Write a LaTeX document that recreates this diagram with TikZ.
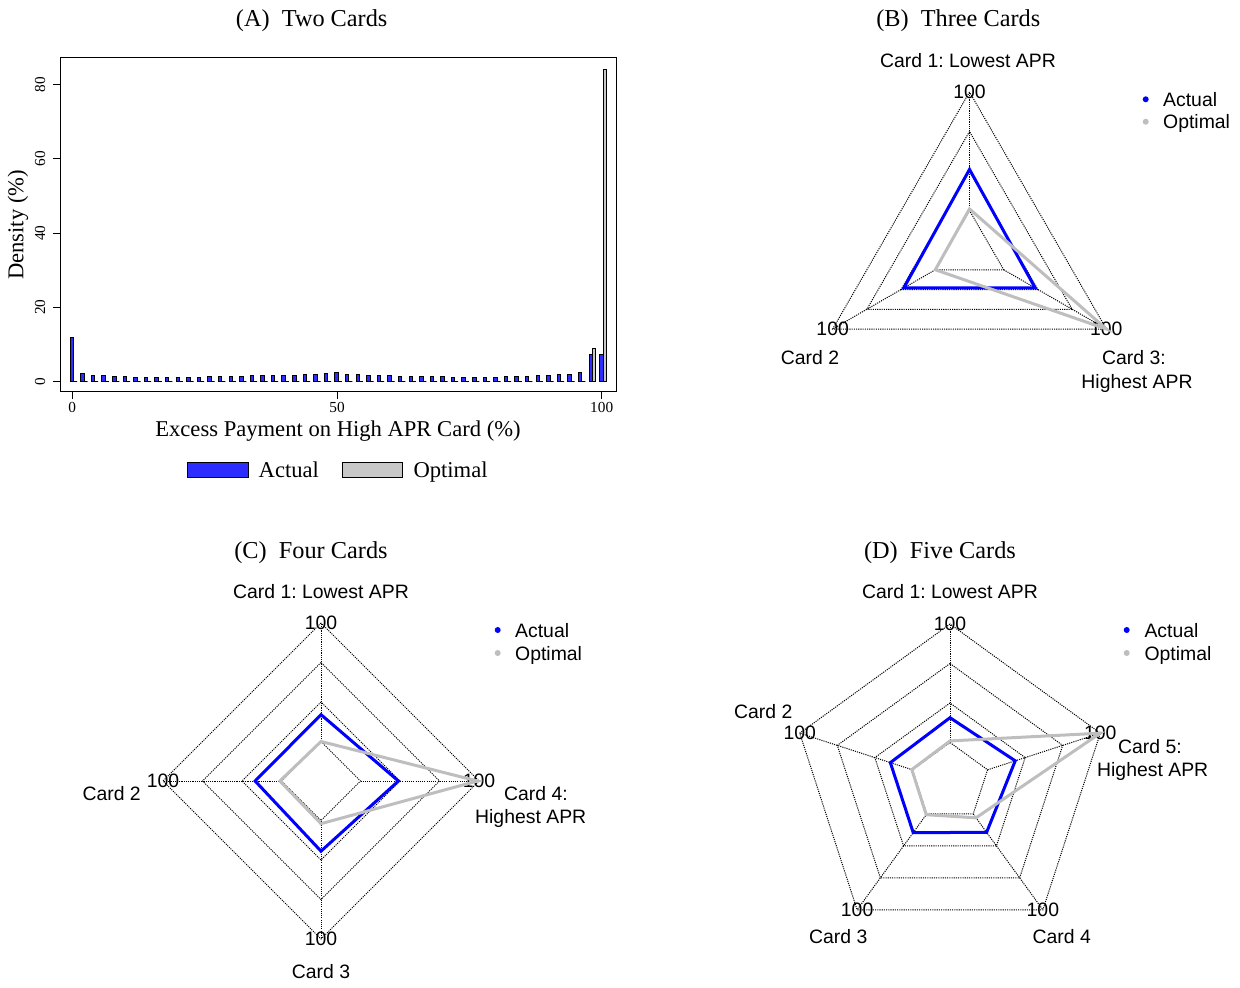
\documentclass[tikz,border=0pt]{standalone}
\usepackage{fontspec}
\newfontfamily\tnr{Liberation Serif}
\newfontfamily\arial{Liberation Sans}
\definecolor{barblue}{RGB}{45,45,255}
\definecolor{bargray}{RGB}{200,200,200}
\definecolor{optgray}{RGB}{190,190,190}
\definecolor{actblue}{RGB}{0,0,255}
\frenchspacing
\begin{document}
\begin{tikzpicture}[x=1pt,y=-1pt,
  ttl/.style={font=\tnr\fontsize{24.3}{28}\selectfont, anchor=base, inner sep=0},
  ax/.style={font=\tnr\fontsize{22.6}{26}\selectfont, inner sep=0},
  tick/.style={font=\tnr\fontsize{15.3}{18}\selectfont, inner sep=0},
  lab/.style={font=\arial\fontsize{19.4}{22}\selectfont, anchor=base, inner sep=0},
  gridl/.style={black, line width=1pt, dash pattern=on 1.1pt off 1.1pt},
  act/.style={actblue, line width=3pt},
  opt/.style={optgray, line width=3pt},
  barb/.style={fill=barblue, draw=black, line width=0.9pt},
  barg/.style={fill=bargray, draw=black, line width=0.9pt}]
\useasboundingbox (0,0) rectangle (1240,988);

% ---------------- Panel A ----------------
\node[ttl] (tA) at (311.7,26.7) {(A)\hspace{0.5em}Two Cards};
\foreach \v/\h in {0/12, 2/2.2, 4/1.7, 6/1.5, 8/1.3, 10/1.3, 12/1.2, 14/1.2, 16/1.2, 18/1.2, 20/1.2, 22/1.2, 24/1.2, 26/1.3, 28/1.3, 30/1.3, 32/1.4, 34/1.5, 36/1.5, 38/1.6, 40/1.6, 42/1.7, 44/1.8, 46/1.9, 48/2.2, 50/2.4, 52/2.0, 54/1.8, 56/1.6, 58/1.5, 60/1.5, 62/1.4, 64/1.4, 66/1.3, 68/1.3, 70/1.3, 72/1.2, 74/1.2, 76/1.2, 78/1.2, 80/1.2, 82/1.3, 84/1.3, 86/1.4, 88/1.5, 90/1.6, 92/1.8, 94/2.0, 96/2.5, 98/7.4, 100/7.2}
  {\path[barb] ({72.3+5.294*(\v-0.4)},381.5) rectangle ({72.3+5.294*(\v+0.25)},{381.5-3.7125*\h});}
\foreach \v/\h in {0/0,2/0,4/0,6/0,8/0,10/0,12/0,14/0,16/0,18/0,20/0,22/0,24/0,26/0,28/0,30/0,32/0,34/0,36/0,38/0,40/0,42/0,44/0,46/0,48/0,50/0,52/0,54/0,56/0,58/0,60/0,62/0,64/0,66/0,68/0,70/0,72/0,74/0,76/0,78/0,80/0,82/0,84/0,86/0,88/0,90/0,92/0,94/0,96/0,98/8.9,100/84}
  {\path[barg] ({72.3+5.294*(\v+0.25)},381.5) rectangle ({72.3+5.294*(\v+0.9)},{381.5-3.7125*\h});}
\draw[line width=0.9pt] (60,57.5) rectangle (616,391.7);
\foreach \t [count=\i] in {0,50,100}{
  \draw[line width=0.8pt] ({72.3+5.294*\t},391.7) -- ++(0,7);
  \node[tick, anchor=base] (xt\i) at ({72.3+5.294*\t},412.5) {\t};
}
\foreach \t [count=\i] in {0,20,40,60,80}{
  \draw[line width=0.8pt] (60,{381.5-3.7125*\t}) -- ++(-7,0);
  \node[tick, rotate=90] (yt\i) at (40,{381.5-3.7125*\t}) {\t};
}
\node[ax, rotate=90] (ylab) at (18,225) {Density (\%)};
\node[ax, anchor=base] (xlab) at (338,436.5) {Excess Payment on High APR Card (\%)};
\draw[fill=barblue, line width=0.9pt] (187.5,462.7) rectangle (248.3,477);
\node[ax, anchor=base west] (lA1) at (258.5,477) {Actual};
\draw[fill=bargray, line width=0.9pt] (342.7,462.7) rectangle (402.7,477);
\node[ax, anchor=base west] (lA2) at (413.3,477) {Optimal};

% ---------------- Panel B ----------------
\node[ttl] (tB) at (958.3,26.7) {(B)\hspace{0.5em}Three Cards};
\begin{scope}[shift={(969.5,250)}]
  \foreach \k in {0.25,0.5,0.75,1}
    \draw[gridl] plot[samples at={0,1,2}] ({158*\k*cos(90+120*\x)},{-158*\k*sin(90+120*\x)}) -- cycle;
  \foreach \i in {0,1,2}
    \draw[gridl] ({39.5*cos(90+120*\i)},{-39.5*sin(90+120*\i)}) -- ({158*cos(90+120*\i)},{-158*sin(90+120*\i)});
  \foreach \i in {0,1,2}
    \node[lab, anchor=center] (B100\i) at ({158*cos(90+120*\i)},{-158*sin(90+120*\i)}) {100};
  \foreach \a/\r [count=\i] in {90/0.51,210/0.48,330/0.48}
    \coordinate (Ba\i) at ({158*\r*cos(\a)},{-158*\r*sin(\a)});
  \foreach \a/\r [count=\i] in {90/0.26,210/0.25,330/1}
    \coordinate (Bo\i) at ({158*\r*cos(\a)},{-158*\r*sin(\a)});
  \draw[act] (Ba1) -- (Ba2) -- (Ba3) -- cycle;
  \draw[opt] (Bo1) -- (Bo2) -- (Bo3) -- cycle;
\end{scope}
\node[lab, anchor=base] (B1) at (968,67.7) {Card 1: Lowest APR};
\node[lab, anchor=base] (B2) at (810,364) {Card 2};
\node[lab, anchor=base] (B3) at (1134,364) {Card 3:};
\node[lab, anchor=base] (B3b) at (1137,388) {Highest APR};
\fill[actblue] (1145.7,99.3) circle (3);
\fill[optgray] (1145.7,121.7) circle (3);
\node[lab, anchor=base west] (BL1) at (1163,106.3) {Actual};
\node[lab, anchor=base west] (BL2) at (1163,128.7) {Optimal};

% ---------------- Panel C ----------------
\node[ttl] (tC) at (311,558) {(C)\hspace{0.5em}Four Cards};
\begin{scope}[shift={(321,781)}]
  \foreach \k in {0.25,0.5,0.75,1}
    \draw[gridl] plot[samples at={0,1,2,3}] ({158*\k*cos(90+90*\x)},{-158*\k*sin(90+90*\x)}) -- cycle;
  \foreach \i in {0,1,2,3}
    \draw[gridl] ({39.5*cos(90+90*\i)},{-39.5*sin(90+90*\i)}) -- ({158*cos(90+90*\i)},{-158*sin(90+90*\i)});
  \foreach \i in {0,1,2,3}
    \node[lab, anchor=center] (C100\i) at ({158*cos(90+90*\i)},{-158*sin(90+90*\i)}) {100};
  \foreach \a/\r [count=\i] in {90/0.42,180/0.417,270/0.444,0/0.49}
    \coordinate (Ca\i) at ({158*\r*cos(\a)},{-158*\r*sin(\a)});
  \foreach \a/\r [count=\i] in {90/0.25,180/0.26,270/0.27,0/0.99}
    \coordinate (Co\i) at ({158*\r*cos(\a)},{-158*\r*sin(\a)});
  \draw[act] (Ca1) -- (Ca2) -- (Ca3) -- (Ca4) -- cycle;
  \draw[opt] (Co1) -- (Co2) -- (Co3) -- (Co4) -- cycle;
\end{scope}
\node[lab, anchor=base] (C1) at (321,598.7) {Card 1: Lowest APR};
\node[lab, anchor=base] (C2) at (111.7,800.3) {Card 2};
\node[lab, anchor=base] (C4) at (536,800.3) {Card 4:};
\node[lab, anchor=base] (C4b) at (530.7,823.7) {Highest APR};
\node[lab, anchor=base] (C3) at (321,978.7) {Card 3};
\fill[actblue] (497.7,630) circle (3);
\fill[optgray] (497.7,653) circle (3);
\node[lab, anchor=base west] (CL1) at (515,637) {Actual};
\node[lab, anchor=base west] (CL2) at (515,660) {Optimal};

% ---------------- Panel D ----------------
\node[ttl] (tD) at (940,558) {(D)\hspace{0.5em}Five Cards};
\begin{scope}[shift={(950,782)}]
  \foreach \k in {0.25,0.5,0.75,1}
    \draw[gridl] plot[samples at={0,1,2,3,4}] ({158*\k*cos(90+72*\x)},{-158*\k*sin(90+72*\x)}) -- cycle;
  \foreach \i in {0,1,2,3,4}
    \draw[gridl] ({39.5*cos(90+72*\i)},{-39.5*sin(90+72*\i)}) -- ({158*cos(90+72*\i)},{-158*sin(90+72*\i)});
  \foreach \i in {0,1,2,3,4}
    \node[lab, anchor=center] (D100\i) at ({158*cos(90+72*\i)},{-158*sin(90+72*\i)}) {100};
  \foreach \a/\r [count=\i] in {90/0.407,162/0.397,234/0.396,306/0.394,18/0.434}
    \coordinate (Da\i) at ({158*\r*cos(\a)},{-158*\r*sin(\a)});
  \foreach \a/\r [count=\i] in {90/0.26,162/0.254,234/0.256,306/0.28,18/1}
    \coordinate (Do\i) at ({158*\r*cos(\a)},{-158*\r*sin(\a)});
  \draw[act] (Da1) -- (Da2) -- (Da3) -- (Da4) -- (Da5) -- cycle;
  \draw[opt] (Do1) -- (Do2) -- (Do3) -- (Do4) -- (Do5) -- cycle;
\end{scope}
\node[lab, anchor=base] (D1) at (950,598.7) {Card 1: Lowest APR};
\node[lab, anchor=base] (D2) at (763.3,718.7) {Card 2};
\node[lab, anchor=base] (D5) at (1150,753.7) {Card 5:};
\node[lab, anchor=base] (D5b) at (1152.7,776.3) {Highest APR};
\node[lab, anchor=base] (D3) at (838.3,943.7) {Card 3};
\node[lab, anchor=base] (D4) at (1061.7,943.7) {Card 4};
\fill[actblue] (1126.7,630) circle (3);
\fill[optgray] (1126.7,653) circle (3);
\node[lab, anchor=base west] (DL1) at (1144.3,637) {Actual};
\node[lab, anchor=base west] (DL2) at (1144.3,660) {Optimal};
\end{tikzpicture}
\end{document}
